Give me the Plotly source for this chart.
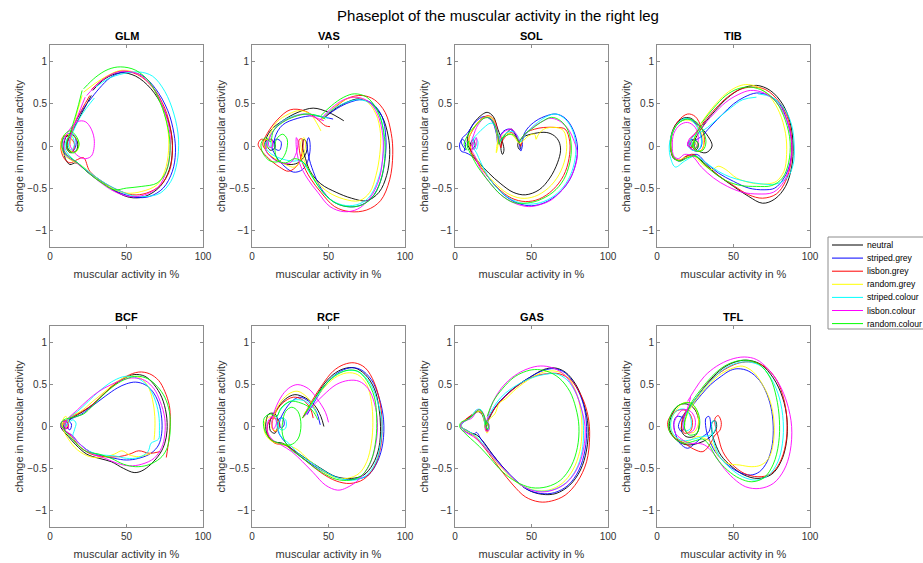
import plotly.graph_objects as go

series = ["neutral", "striped.grey", "lisbon.grey", "random.grey",
          "striped.colour", "lisbon.colour", "random.colour"]
colors = ["#000000", "#0000ff", "#ff0000", "#ffff00", "#00ffff", "#ff00ff", "#00ff00"]
muscles = ["GLM", "VAS", "SOL", "TIB", "BCF", "RCF", "GAS", "TFL"]
x_ticks = [0, 50, 100]
y_ticks = [-1, -0.5, 0, 0.5, 1]

GLM = {
    "neutral": [(28,0.66),(36,0.8),(46,0.87),(56,0.83),(66,0.68),(74,0.45),(79,0.18),(80,-0.05),(78,-0.28),(72,-0.48),(62,-0.6),(52,-0.61),(42,-0.53),(32,-0.4),(24,-0.3),(17,-0.2),(13,-0.22),(10,-0.15),(9,0),(11,0.12),(15,0.13),(18,0.05),(17,-0.06),(13,-0.06),(11,0.03),(14,0.15),(19,0.33),(27,0.6)],
    "striped.grey": [(25,0.52),(32,0.68),(40,0.82),(49,0.88),(60,0.84),(69,0.68),(77,0.42),(81,0.15),(82,-0.08),(80,-0.3),(74,-0.5),(65,-0.6),(56,-0.61),(45,-0.55),(35,-0.45),(26,-0.33),(18,-0.2),(12,-0.14),(8,-0.04),(9,0.1),(14,0.15),(17,0.07),(16,-0.04),(13,-0.08),(11,0),(13,0.12),(17,0.3),(24,0.5)],
    "lisbon.grey": [(27,0.67),(36,0.81),(46,0.89),(57,0.85),(67,0.7),(75,0.45),(79,0.18),(80,-0.05),(78,-0.3),(72,-0.47),(63,-0.56),(54,-0.58),(44,-0.52),(34,-0.42),(26,-0.3),(22,-0.14),(18,-0.16),(13,-0.2),(9,-0.14),(7,0),(9,0.12),(13,0.1),(16,0.02),(14,-0.08),(11,-0.04),(12,0.08),(17,0.3),(26,0.6)],
    "random.grey": [(22,0.64),(30,0.75),(38,0.84),(47,0.9),(57,0.86),(66,0.72),(73,0.48),(77,0.2),(77.5,-0.05),(75,-0.3),(70,-0.46),(60,-0.54),(50,-0.56),(40,-0.5),(30,-0.38),(22,-0.25),(15,-0.18),(9,-0.1),(7,0.03),(10,0.13),(15,0.12),(19,0.03),(17,-0.07),(13,-0.05),(14,0.1),(17,0.35),(21,0.6)],
    "striped.colour": [(30,0.7),(38,0.8),(48,0.86),(58,0.88),(67,0.83),(75,0.65),(81,0.38),(84,0.08),(83,-0.2),(79,-0.42),(72,-0.56),(63,-0.6),(54,-0.59),(44,-0.52),(34,-0.42),(25,-0.3),(18,-0.2),(13,-0.12),(10,-0.03),(11,0.08),(14,0.12),(16,0.03),(14,-0.05),(12,0),(14,0.12),(20,0.35),(29,0.57)],
    "lisbon.colour": [(24,0.6),(32,0.75),(40,0.85),(48,0.89),(58,0.85),(67,0.7),(74,0.46),(78,0.2),(78.5,-0.05),(76,-0.3),(71,-0.48),(62,-0.58),(52,-0.6),(42,-0.54),(32,-0.42),(24,-0.3),(16,-0.18),(10,-0.08),(9,0.05),(13,0.2),(18,0.29),(23,0.29),(27,0.2),(29,0.05),(27,-0.12),(22,-0.15),(16,-0.08),(13,0.02),(14,0.15),(18,0.35),(23,0.58)],
    "random.colour": [(22,0.68),(30,0.82),(38,0.91),(46,0.94),(56,0.9),(65,0.76),(72,0.52),(77,0.22),(78.5,-0.05),(76,-0.3),(70,-0.44),(60,-0.48),(50,-0.5),(42,-0.52),(34,-0.44),(25,-0.32),(18,-0.2),(12,-0.12),(8,-0.02),(9,0.12),(13,0.18),(17,0.12),(19,0.02),(16,-0.08),(12,-0.06),(11,0.05),(13,0.15),(17,0.38),(21,0.66)],
}

VAS = {
    "neutral": [(47,0.33),(55,0.45),(62,0.52),(70,0.56),(78,0.5),(85,0.35),(89,0.12),(90,-0.1),(88,-0.35),(83,-0.55),(75,-0.65),(65,-0.62),(55,-0.55),(45,-0.45),(38,-0.3),(35,-0.15),(33,0),(34,0.08),(36,0.02),(35,-0.1),(30,-0.2),(24,-0.22),(17,-0.18),(11,-0.1),(8,0),(10,0.08),(14,0.06),(15,-0.02),(12,-0.05),(9,0.05),(12,0.18),(20,0.3),(30,0.4),(40,0.45),(50,0.4),(60,0.3)],
    "striped.grey": [(48,0.35),(56,0.45),(64,0.52),(72,0.55),(79,0.5),(85,0.35),(87.5,0.1),(87,-0.15),(84,-0.42),(78,-0.62),(70,-0.71),(62,-0.72),(53,-0.66),(45,-0.5),(40,-0.3),(37,-0.12),(36,0.05),(37,0.1),(38,0.02),(37,-0.15),(33,-0.28),(27,-0.31),(20,-0.22),(15,-0.1),(13,0),(16,0.08),(19,0.05),(18,-0.05),(15,-0.03),(15,0.1),(20,0.25),(30,0.33),(40,0.36),(48,0.34),(53,0.32)],
    "lisbon.grey": [(46,0.32),(55,0.47),(63,0.57),(72,0.6),(80,0.55),(87,0.4),(91,0.15),(92,-0.1),(90,-0.4),(84,-0.65),(75,-0.76),(64,-0.78),(54,-0.72),(45,-0.55),(38,-0.38),(33,-0.2),(31,-0.05),(31,0.08),(33,0.08),(33,-0.05),(30,-0.22),(24,-0.3),(18,-0.25),(11,-0.15),(6,-0.05),(4,0.02),(6,0.08),(10,0.05),(9,-0.04),(7,0.02),(10,0.15),(17,0.32),(25,0.43),(34,0.42),(42,0.33),(48,0.24),(51,0.23)],
    "random.grey": [(45,0.3),(53,0.45),(61,0.55),(68,0.58),(75,0.53),(81,0.38),(84,0.15),(83.5,-0.1),(81,-0.35),(77,-0.55),(70,-0.65),(60,-0.63),(50,-0.55),(42,-0.42),(36,-0.25),(33,-0.1),(32,0.05),(34,0.1),(35,0),(33,-0.12),(28,-0.25),(22,-0.22),(15,-0.15),(9,-0.05),(8,0.06),(12,0.08),(13,0),(10,-0.02),(11,0.1),(16,0.28),(24,0.38),(31,0.42),(38,0.38),(43,0.25),(45,0.18)],
    "striped.colour": [(46,0.34),(54,0.45),(62,0.52),(70,0.55),(78,0.5),(84,0.34),(86,0.1),(85.5,-0.15),(82,-0.42),(76,-0.62),(68,-0.7),(59,-0.7),(50,-0.62),(43,-0.47),(37,-0.3),(32,-0.18),(26,-0.18),(19,-0.15),(13,-0.1),(9,-0.02),(9,0.05),(12,0.06),(12,-0.02),(10,0),(12,0.12),(18,0.27),(26,0.35),(35,0.38),(43,0.36),(50,0.33)],
    "lisbon.colour": [(44,0.3),(52,0.45),(60,0.55),(68,0.58),(76,0.53),(82,0.38),(85.5,0.12),(85.5,-0.12),(83,-0.4),(77,-0.62),(69,-0.75),(60,-0.78),(51,-0.72),(43,-0.55),(36,-0.38),(31,-0.2),(29,-0.02),(29,0.1),(30,0.05),(29,-0.08),(25,-0.2),(19,-0.2),(13,-0.14),(9,-0.05),(10,0.06),(13,0.08),(13,-0.02),(11,0),(12,0.12),(18,0.26),(26,0.34),(34,0.38),(41,0.34),(47,0.3)],
    "random.colour": [(45,0.36),(52,0.48),(60,0.58),(67,0.62),(75,0.58),(82,0.42),(86,0.18),(87,-0.08),(85,-0.35),(80,-0.58),(72,-0.7),(62,-0.72),(53,-0.66),(45,-0.52),(39,-0.35),(34,-0.2),(28,-0.15),(22,-0.2),(17,-0.17),(15,-0.05),(16,0.08),(20,0.14),(23,0.08),(22,-0.08),(18,-0.18),(12,-0.18),(7,-0.08),(6,0.03),(9,0.1),(12,0.05),(14,0.18),(20,0.28),(28,0.35),(36,0.38),(43,0.36),(48,0.32)],
}

SOL = {
    "neutral": [(10,-0.05),(8,0.05),(10,0.2),(15,0.33),(21,0.4),(25,0.35),(28,0.2),(31,0.05),(32,-0.05),(31,-0.1),(30,-0.03),(31,0.08),(34,0.16),(37,0.2),(40,0.12),(42,0.04),(43,-0.02),(42,-0.04),(41,0.02),(44,0.1),(52,0.15),(60,0.16),(65,0.12),(68,0.05),(69,-0.05),(67,-0.2),(62,-0.38),(55,-0.52),(46,-0.58),(38,-0.55),(30,-0.45),(22,-0.32),(15,-0.18),(11,-0.08),(10,0.02),(12,0.08),(13,0),(11,-0.04)],
    "striped.grey": [(7,-0.05),(4,0.05),(5,0.1),(8,0.15),(13,0.28),(19,0.35),(24,0.3),(27,0.15),(28,0.02),(29,0.1),(32,0.18),(36,0.2),(40,0.12),(42,0.02),(43,-0.06),(44,0),(44,0.08),(47,0.2),(53,0.3),(60,0.36),(66,0.38),(72,0.33),(77,0.2),(80,0),(79,-0.2),(75,-0.4),(68,-0.56),(59,-0.67),(50,-0.71),(41,-0.68),(32,-0.58),(23,-0.4),(16,-0.22),(11,-0.12),(7,-0.08),(4,-0.06),(3,0.02),(5,0.08),(7,0.02),(6,-0.06)],
    "lisbon.grey": [(10,0),(9,0.08),(12,0.2),(17,0.32),(22,0.36),(26,0.3),(28,0.15),(29,0.05),(30,-0.02),(31,0.06),(34,0.13),(37,0.16),(40,0.1),(42,0.03),(43,0),(44,0.06),(47,0.16),(52,0.2),(58,0.22),(66,0.22),(72,0.2),(75,0.05),(74.5,-0.15),(71,-0.35),(64,-0.52),(55,-0.63),(46,-0.66),(37,-0.62),(28,-0.5),(20,-0.33),(14,-0.18),(11,-0.1),(10,-0.02),(12,0.05)],
    "random.grey": [(11,-0.05),(9,0.05),(11,0.18),(16,0.3),(21,0.35),(25,0.32),(27,0.18),(28,0.0),(27,-0.08),(28,0.05),(31,0.12),(35,0.15),(39,0.1),(42,0.03),(44,0.05),(48,0.12),(52,0.14),(53,0.08),(54,0.12),(58,0.2),(66,0.22),(71,0.18),(73,0.02),(72,-0.15),(68,-0.34),(61,-0.5),(52,-0.6),(43,-0.62),(34,-0.56),(26,-0.44),(19,-0.3),(14,-0.15),(11,-0.08)],
    "striped.colour": [(13,0),(12,0.08),(15,0.15),(19,0.22),(23,0.27),(26,0.25),(28,0.15),(30,0.06),(31,0.1),(34,0.16),(38,0.17),(41,0.12),(43,0.05),(45,0.1),(48,0.18),(54,0.28),(61,0.36),(66,0.38),(72,0.32),(77,0.18),(79,0),(78,-0.2),(74,-0.4),(67,-0.56),(58,-0.66),(49,-0.69),(40,-0.66),(31,-0.56),(23,-0.4),(17,-0.2),(14,-0.08),(12,-0.02),(11,0.05),(13,0.1),(15,0.05),(14,-0.04),(13,0)],
    "lisbon.colour": [(12,-0.04),(11,0.06),(12,0.12),(15,0.25),(20,0.34),(24,0.32),(27,0.22),(28,0.1),(29,0.04),(30,0.12),(33,0.18),(37,0.2),(40,0.14),(42,0.06),(44,0.1),(47,0.16),(53,0.25),(58,0.3),(62,0.33),(68,0.3),(74,0.2),(78,0.05),(80,-0.1),(77,-0.32),(71,-0.5),(63,-0.64),(55,-0.7),(48,-0.72),(39,-0.68),(30,-0.58),(22,-0.42),(16,-0.25),(13,-0.12),(11,-0.05),(12,0.02),(14,0.1),(14,0.02),(12,-0.04)],
    "random.colour": [(8,-0.05),(6,0.02),(7,0.08),(9,0.15),(14,0.25),(19,0.33),(23,0.33),(26,0.25),(28,0.12),(29,0.02),(30,0.08),(33,0.12),(37,0.14),(40,0.1),(42,0.04),(43,0.08),(46,0.15),(50,0.2),(56,0.28),(63,0.34),(69,0.3),(74,0.18),(76,0),(75,-0.2),(71,-0.4),(64,-0.55),(54,-0.65),(45,-0.68),(38,-0.67),(30,-0.58),(22,-0.42),(15,-0.25),(11,-0.12),(9,-0.05),(8,0.02),(9,0.06),(8,-0.02)],
}

TIB = {
    "neutral": [(30,0.25),(38,0.42),(46,0.57),(55,0.68),(65,0.72),(74,0.66),(82,0.5),(87,0.28),(89,0),(88,-0.25),(84,-0.48),(77,-0.63),(69,-0.68),(60,-0.6),(50,-0.48),(40,-0.35),(32,-0.22),(25,-0.12),(20,-0.12),(15,-0.17),(11,-0.15),(9,-0.05),(9,0.1),(12,0.25),(17,0.33),(22,0.33),(27,0.25),(32,0.15),(36,0),(32,-0.08),(26,-0.05),(22,0.02),(24,0.08),(27,0.03),(26,-0.04),(24,0),(25,0.08),(28,0.18),(32,0.28)],
    "striped.grey": [(30,0.13),(36,0.25),(43,0.38),(50,0.5),(57,0.58),(65,0.63),(73,0.6),(80,0.5),(85,0.3),(88,0.05),(87,-0.2),(83,-0.38),(77,-0.5),(70,-0.52),(60,-0.5),(50,-0.42),(40,-0.32),(32,-0.2),(26,-0.1),(20,-0.13),(14,-0.18),(10,-0.1),(9,0.05),(11,0.2),(16,0.3),(21,0.32),(26,0.25),(29,0.12),(29,0),(26,-0.06),(22,-0.03),(21,0.04),(23,0.08),(25,0.03),(23,-0.02),(24,0.05),(28,0.1),(32,0.16)],
    "lisbon.grey": [(30,0.27),(38,0.44),(46,0.58),(54,0.67),(62,0.7),(71,0.67),(80,0.52),(86,0.3),(88,0.05),(87.5,-0.2),(84,-0.42),(78,-0.57),(69,-0.62),(60,-0.58),(50,-0.47),(40,-0.35),(31,-0.22),(24,-0.1),(19,-0.12),(15,-0.17),(11,-0.14),(9,-0.03),(10,0.15),(14,0.3),(20,0.38),(25,0.35),(29,0.22),(31,0.08),(29,-0.05),(24,-0.05),(20,0.02),(22,0.06),(24,0.02),(22,-0.02),(21,0.05),(25,0.15),(31,0.29)],
    "random.grey": [(28,0.25),(36,0.45),(45,0.62),(52,0.7),(58,0.73),(66,0.7),(74,0.58),(80,0.4),(84,0.15),(84.7,-0.1),(83,-0.3),(78,-0.42),(72,-0.45),(62,-0.44),(52,-0.38),(45,-0.28),(40,-0.24),(36,-0.28),(30,-0.22),(24,-0.12),(18,-0.14),(13,-0.17),(10,-0.1),(9,0.05),(11,0.2),(16,0.3),(22,0.3),(27,0.22),(30,0.1),(30,-0.03),(27,-0.06),(23,0),(24,0.06),(26,0),(24,-0.02),(24,0.06),(27,0.17),(29,0.23)],
    "striped.colour": [(66,0.62),(75,0.58),(83,0.45),(88,0.25),(89.7,0),(89,-0.22),(85,-0.38),(78,-0.45),(68,-0.45),(58,-0.42),(48,-0.37),(40,-0.3),(32,-0.2),(25,-0.12),(18,-0.18),(12,-0.25),(9,-0.15),(8,0),(10,0.15),(14,0.28),(19,0.33),(24,0.28),(28,0.15),(29,0.03),(27,-0.05),(22,-0.04),(20,0.03),(22,0.07),(23,0.02),(21,0),(22,0.08),(27,0.15),(33,0.22),(40,0.33),(48,0.45),(56,0.55),(65,0.58)],
    "lisbon.colour": [(29,0.22),(37,0.38),(45,0.52),(53,0.61),(61,0.66),(70,0.63),(78,0.52),(85,0.3),(88,0.03),(87,-0.22),(83,-0.42),(76,-0.55),(66,-0.57),(56,-0.55),(46,-0.48),(37,-0.38),(29,-0.25),(23,-0.12),(18,-0.1),(14,-0.15),(11,-0.12),(10,0),(11,0.15),(15,0.25),(20,0.28),(25,0.22),(27,0.1),(26,0),(23,-0.04),(20,0.02),(21,0.06),(22,0.02),(20,0),(21,0.08),(25,0.15),(29,0.22)],
    "random.colour": [(29,0.27),(37,0.45),(45,0.6),(53,0.68),(61,0.7),(70,0.65),(78,0.52),(84,0.3),(87,0.05),(86,-0.2),(82,-0.38),(75,-0.47),(65,-0.48),(55,-0.47),(46,-0.42),(38,-0.33),(31,-0.22),(25,-0.12),(20,-0.14),(15,-0.18),(11,-0.14),(9,0),(10,0.15),(14,0.27),(20,0.32),(26,0.28),(30,0.18),(32,0.05),(30,-0.05),(26,-0.06),(23,0),(25,0.06),(27,0.02),(25,-0.03),(24,0.05),(26,0.16),(30,0.26)],
}

BCF = {
    "neutral": [(12,0.08),(18,0.14),(25,0.22),(32,0.33),(40,0.47),(48,0.57),(55,0.62),(62,0.6),(68,0.5),(73,0.35),(76,0.15),(76.5,-0.05),(75,-0.2),(72,-0.32),(66,-0.45),(60,-0.53),(55,-0.55),(48,-0.5),(40,-0.42),(32,-0.38),(24,-0.33),(17,-0.22),(12,-0.12),(9,-0.06),(7,0),(8,0.06),(11,0.06),(12,0),(10,-0.03),(9,0.03),(11,0.08)],
    "striped.grey": [(13,0.08),(20,0.14),(28,0.25),(36,0.36),(44,0.46),(50,0.51),(56,0.53),(62,0.5),(67,0.42),(71,0.28),(73,0.1),(73,-0.08),(71,-0.22),(66,-0.32),(58,-0.38),(50,-0.4),(42,-0.38),(34,-0.35),(26,-0.3),(19,-0.2),(14,-0.1),(10,-0.06),(9,0.02),(11,0.07),(14,0.03),(13,-0.04),(11,0),(13,0.08)],
    "lisbon.grey": [(72,-0.3),(65,-0.32),(58,-0.29),(52,-0.33),(45,-0.36),(36,-0.36),(27,-0.33),(20,-0.25),(14,-0.12),(10,-0.05),(8,0.02),(10,0.07),(12,0.03),(11,-0.03),(10,0.03),(13,0.1),(20,0.17),(27,0.25),(34,0.37),(42,0.5),(50,0.6),(58,0.65),(65,0.63),(71,0.55),(75,0.42),(78,0.25),(78.6,0.08),(78,-0.1),(77,-0.25),(76,-0.37)],
    "random.grey": [(66,-0.32),(58,-0.36),(52,-0.34),(47,-0.29),(42,-0.33),(34,-0.37),(26,-0.36),(18,-0.28),(12,-0.15),(9,-0.05),(8,0.05),(10,0.12),(12,0.08),(11,0),(9,0.02),(13,0.12),(20,0.18),(28,0.3),(36,0.42),(44,0.54),(52,0.6),(59,0.58),(64,0.48),(67,0.32),(68.5,0.12),(68.5,-0.05),(68,-0.16)],
    "striped.colour": [(12,0.1),(18,0.18),(25,0.3),(32,0.42),(40,0.53),(47,0.59),(52,0.6),(58,0.57),(64,0.48),(68,0.35),(71,0.15),(71.5,-0.05),(71,-0.15),(68,-0.18),(66,-0.2),(64,-0.3),(58,-0.37),(50,-0.38),(42,-0.35),(34,-0.34),(26,-0.3),(19,-0.2),(15,-0.12),(16,-0.04),(17,0.04),(15,0.08),(12,0.04),(10,0),(11,0.06),(13,0.1)],
    "lisbon.colour": [(12,0.1),(18,0.2),(25,0.32),(32,0.42),(40,0.5),(48,0.56),(55,0.58),(62,0.55),(68,0.45),(72,0.3),(75,0.1),(75,-0.1),(73,-0.25),(68,-0.38),(60,-0.45),(52,-0.47),(44,-0.44),(36,-0.38),(28,-0.33),(20,-0.22),(14,-0.1),(10,-0.05),(7,0),(8,0.06),(11,0.05),(12,-0.02),(10,-0.02),(10,0.05),(12,0.1)],
    "random.colour": [(10,-0.04),(7,0.02),(9,0.08),(13,0.1),(17,0.12),(22,0.15),(28,0.25),(35,0.38),(43,0.5),(50,0.57),(57,0.6),(64,0.57),(70,0.48),(75,0.35),(78,0.18),(78.6,0),(78,-0.15),(76,-0.28),(72,-0.38),(64,-0.46),(56,-0.48),(48,-0.45),(40,-0.38),(32,-0.33),(24,-0.3),(17,-0.2),(12,-0.1),(9,-0.04)],
}

RCF = {
    "neutral": [(34,0.12),(40,0.3),(46,0.48),(53,0.62),(60,0.69),(67,0.7),(74,0.62),(80,0.45),(83,0.22),(84,0),(83,-0.25),(79,-0.45),(73,-0.58),(65,-0.62),(55,-0.6),(45,-0.5),(35,-0.38),(27,-0.28),(20,-0.2),(14,-0.18),(10,-0.1),(9,0.03),(11,0.15),(15,0.15),(17,0.05),(15,-0.08),(12,-0.05),(12,0.08),(16,0.2),(22,0.33),(28,0.38),(35,0.34),(41,0.25),(45,0.12),(47,0)],
    "striped.grey": [(36,0.14),(42,0.33),(49,0.52),(56,0.64),(64,0.7),(71,0.68),(78,0.56),(83,0.35),(86,0.08),(85.5,-0.2),(82,-0.42),(76,-0.58),(68,-0.63),(58,-0.62),(48,-0.55),(39,-0.45),(31,-0.35),(25,-0.25),(20,-0.15),(17,-0.05),(17,0.08),(20,0.1),(21,0.02),(19,-0.02),(18,0.05),(21,0.18),(26,0.3),(31,0.35),(37,0.3),(42,0.18),(44.6,0.02)],
    "lisbon.grey": [(33,0.1),(39,0.3),(46,0.5),(53,0.66),(60,0.74),(67,0.76),(74,0.7),(80,0.52),(84,0.25),(85,0),(84,-0.25),(80,-0.48),(73,-0.63),(64,-0.68),(55,-0.65),(45,-0.55),(36,-0.42),(28,-0.3),(21,-0.22),(15,-0.2),(11,-0.12),(10,0),(13,0.1),(17,0.08),(18,0),(15,-0.06),(13,0),(15,0.15),(20,0.28),(27,0.35),(33,0.32),(38,0.22),(40,0.1)],
    "random.grey": [(34,0.15),(40,0.3),(47,0.46),(54,0.58),(62,0.64),(69,0.62),(75,0.5),(78,0.3),(79,0.05),(78,-0.2),(75,-0.42),(70,-0.56),(62,-0.62),(53,-0.6),(44,-0.5),(36,-0.38),(30,-0.28),(23,-0.22),(16,-0.2),(11,-0.15),(8,-0.05),(9,0.08),(13,0.12),(17,0.05),(16,-0.05),(13,-0.02),(14,0.12),(19,0.3),(25,0.4),(30,0.42),(36,0.35),(40,0.25),(42,0.15)],
    "striped.colour": [(35,0.15),(41,0.32),(48,0.5),(55,0.62),(63,0.67),(70,0.65),(77,0.52),(82,0.3),(85,0.05),(84,-0.2),(81,-0.42),(75,-0.58),(67,-0.64),(57,-0.62),(47,-0.53),(38,-0.42),(30,-0.32),(24,-0.2),(19,-0.12),(17,0),(19,0.1),(22,0.08),(22,-0.02),(19,-0.04),(16,0.05),(18,0.18),(23,0.28),(29,0.32),(35,0.3),(40,0.22),(43,0.15)],
    "lisbon.colour": [(34,0.12),(40,0.25),(47,0.38),(55,0.5),(63,0.55),(70,0.54),(76,0.45),(80,0.28),(82,0.05),(81,-0.2),(77,-0.45),(70,-0.63),(62,-0.73),(56,-0.76),(48,-0.7),(40,-0.55),(33,-0.42),(26,-0.3),(19,-0.22),(13,-0.15),(10,-0.05),(11,0.08),(14,0.12),(16,0.05),(14,-0.03),(13,0.05),(15,0.2),(20,0.38),(25,0.47),(30,0.5),(37,0.45),(43,0.32),(48,0.17),(50,0.05)],
    "random.colour": [(33,0.1),(39,0.28),(46,0.46),(54,0.6),(62,0.67),(69,0.66),(75,0.55),(80,0.35),(81.5,0.1),(81,-0.15),(78,-0.4),(72,-0.58),(64,-0.64),(55,-0.63),(46,-0.55),(38,-0.45),(31,-0.35),(24,-0.25),(20,-0.1),(20,0.05),(22,0.18),(26,0.23),(30,0.18),(32,0.02),(30,-0.15),(25,-0.22),(18,-0.2),(12,-0.15),(8,-0.03),(8,0.1),(12,0.15),(16,0.12),(19,0.22),(25,0.3),(32,0.28),(38,0.22),(42,0.12),(43,0.08)],
}

GAS = {
    "neutral": [(22,0.08),(26,0.22),(32,0.35),(40,0.48),(50,0.6),(58,0.68),(65,0.7),(72,0.65),(79,0.5),(84,0.28),(87,0),(86,-0.28),(82,-0.52),(75,-0.7),(66,-0.8),(57,-0.81),(48,-0.76),(40,-0.65),(32,-0.5),(24,-0.32),(18,-0.17),(14,-0.1),(11,-0.08),(8,-0.05),(5,-0.02),(4,0.03),(7,0.08),(10,0.12),(14,0.18),(17,0.16),(19,0.08),(20,-0.03),(21,-0.05),(22,0.02),(21,0.05),(20,0),(21,0.04),(22,0.08)],
    "striped.grey": [(22,0.1),(27,0.25),(33,0.37),(41,0.49),(50,0.6),(58,0.67),(65,0.69),(72,0.64),(79,0.48),(84,0.26),(86,0),(85,-0.28),(81,-0.52),(74,-0.7),(65,-0.79),(56,-0.8),(47,-0.75),(39,-0.63),(31,-0.48),(23,-0.3),(17,-0.15),(14,-0.07),(12,-0.1),(9,-0.08),(5,-0.03),(4,0.02),(7,0.07),(11,0.12),(15,0.18),(18,0.15),(20,0.05),(21,-0.04),(22,-0.02),(21,0.03),(20,0),(21,0.06),(22,0.1)],
    "lisbon.grey": [(22,0.1),(27,0.24),(33,0.36),(42,0.5),(52,0.6),(60,0.63),(68,0.63),(76,0.55),(83,0.35),(87,0.12),(88,-0.12),(86,-0.42),(80,-0.66),(72,-0.82),(63,-0.89),(55,-0.9),(46,-0.84),(38,-0.7),(30,-0.52),(22,-0.32),(16,-0.18),(12,-0.1),(8,-0.05),(4,0),(5,0.05),(8,0.1),(12,0.15),(16,0.18),(19,0.12),(20,0.02),(21,-0.06),(22,-0.03),(21,0.04),(20,0),(21,0.06),(22,0.1)],
    "random.grey": [(22,0.08),(26,0.15),(29,0.28),(33,0.33),(40,0.45),(50,0.58),(58,0.65),(66,0.66),(73,0.6),(79,0.42),(82,0.2),(83,-0.05),(81.5,-0.3),(77,-0.52),(70,-0.68),(61,-0.76),(52,-0.76),(43,-0.7),(35,-0.58),(27,-0.42),(20,-0.25),(14,-0.13),(10,-0.08),(6,-0.04),(4,0.02),(6,0.07),(10,0.1),(13,0.17),(17,0.17),(19,0.08),(20,-0.04),(21,-0.08),(22,-0.02),(21,0.04),(20,0.01),(21,0.05),(22,0.08)],
    "striped.colour": [(22,0.12),(27,0.28),(33,0.4),(41,0.5),(50,0.58),(58,0.62),(66,0.63),(73,0.56),(79,0.4),(83,0.18),(84,-0.05),(83,-0.3),(79,-0.52),(72,-0.68),(63,-0.76),(54,-0.77),(45,-0.72),(37,-0.6),(29,-0.45),(21,-0.28),(15,-0.14),(11,-0.08),(7,-0.04),(4,0),(6,0.06),(10,0.1),(14,0.2),(17,0.2),(19,0.1),(20,0),(22,-0.04),(22,0.03),(21,0.06),(20,0.02),(21,0.07),(22,0.12)],
    "lisbon.colour": [(22,0.15),(25,0.3),(30,0.45),(37,0.58),(45,0.67),(54,0.72),(62,0.71),(70,0.64),(77,0.48),(82,0.25),(85,0),(84,-0.27),(80,-0.5),(73,-0.67),(64,-0.76),(55,-0.78),(46,-0.73),(38,-0.62),(30,-0.47),(23,-0.32),(17,-0.2),(12,-0.12),(8,-0.08),(4,-0.03),(4,0.03),(7,0.07),(11,0.1),(15,0.2),(18,0.17),(20,0.06),(20,-0.05),(22,-0.05),(22,0.03),(21,0.06),(20,0.01),(21,0.08),(22,0.15)],
    "random.colour": [(21,0.12),(25,0.3),(31,0.45),(38,0.58),(45,0.65),(52,0.68),(60,0.66),(68,0.58),(75,0.42),(79,0.22),(81,0),(80,-0.25),(76,-0.47),(69,-0.64),(60,-0.72),(50,-0.73),(40,-0.66),(31,-0.54),(23,-0.38),(16,-0.24),(10,-0.14),(6,-0.07),(3,0),(4,0.05),(8,0.08),(12,0.14),(16,0.2),(19,0.13),(20,0.03),(21,-0.03),(22,0),(21,0.05),(20,0.02),(21,0.08)],
}

TFL = {
    "neutral": [(24,0.3),(30,0.45),(37,0.6),(45,0.72),(53,0.78),(60,0.79),(68,0.74),(76,0.58),(82,0.35),(85,0.08),(84.5,-0.2),(81,-0.42),(75,-0.57),(66,-0.62),(57,-0.58),(49,-0.48),(42,-0.35),(38,-0.2),(36,-0.07),(36,0.05),(38,0.07),(39,0),(37,-0.08),(33,-0.15),(27,-0.2),(20,-0.22),(14,-0.18),(10,-0.1),(8,0),(10,0.15),(14,0.25),(19,0.27),(24,0.22),(27,0.1),(27,-0.05),(24,-0.12),(19,-0.12),(16,-0.05),(17,0.08),(20,0.2),(24,0.3)],
    "striped.grey": [(23,0.25),(29,0.38),(35,0.5),(42,0.6),(48,0.67),(53,0.69),(60,0.66),(67,0.55),(72,0.38),(75,0.18),(76,-0.05),(75,-0.25),(72,-0.42),(67,-0.54),(61,-0.58),(53,-0.54),(45,-0.44),(38,-0.3),(34,-0.15),(32,-0.02),(32,0.1),(34,0.12),(35,0.03),(34,-0.06),(30,-0.12),(25,-0.2),(20,-0.26),(15,-0.2),(12,-0.08),(11,0.05),(13,0.12),(17,0.1),(18,0),(16,-0.06),(14,0),(16,0.1),(19,0.18),(23,0.25)],
    "lisbon.grey": [(25,0.32),(31,0.47),(38,0.6),(46,0.7),(54,0.76),(62,0.77),(70,0.72),(78,0.56),(83,0.32),(85,0.05),(84,-0.22),(80,-0.44),(74,-0.57),(66,-0.6),(57,-0.56),(49,-0.45),(43,-0.3),(40,-0.12),(38,0.02),(38,0.1),(40,0.13),(42,0.05),(41,-0.05),(38,-0.1),(35,-0.2),(30,-0.3),(24,-0.27),(18,-0.2),(12,-0.14),(8,-0.05),(7,0.05),(10,0.15),(15,0.2),(20,0.18),(23,0.08),(22,-0.05),(18,-0.08),(16,0.02),(18,0.15),(22,0.25),(25,0.32)],
    "random.grey": [(24,0.28),(29,0.4),(35,0.52),(42,0.63),(50,0.7),(56,0.72),(63,0.65),(69,0.5),(74,0.3),(76.5,0.05),(76,-0.2),(73,-0.38),(68,-0.46),(62,-0.48),(54,-0.46),(46,-0.44),(40,-0.35),(36,-0.2),(32,-0.15),(26,-0.12),(20,-0.18),(14,-0.15),(10,-0.08),(9,0.05),(12,0.18),(17,0.28),(22,0.28),(26,0.18),(27,0.03),(24,-0.07),(19,-0.06),(18,0.03),(20,0.15),(24,0.28)],
    "striped.colour": [(24,0.3),(30,0.44),(37,0.58),(45,0.7),(53,0.76),(60,0.77),(68,0.72),(75,0.56),(80,0.34),(82.5,0.06),(82,-0.2),(79,-0.42),(73,-0.58),(65,-0.64),(56,-0.6),(48,-0.5),(41,-0.36),(37,-0.18),(36,-0.05),(36,0.06),(38,0.06),(38,-0.04),(35,-0.1),(30,-0.12),(24,-0.15),(17,-0.17),(12,-0.12),(9,-0.02),(10,0.12),(14,0.2),(19,0.2),(22,0.1),(22,-0.02),(19,-0.05),(17,0.03),(19,0.15),(24,0.3)],
    "lisbon.colour": [(20,0.3),(25,0.45),(31,0.6),(39,0.72),(48,0.8),(57,0.83),(65,0.8),(73,0.68),(80,0.5),(85,0.28),(88,0),(87,-0.3),(83,-0.52),(76,-0.68),(67,-0.74),(58,-0.72),(50,-0.62),(43,-0.48),(37,-0.32),(31,-0.22),(26,-0.2),(21,-0.2),(16,-0.15),(12,-0.08),(11,0.02),(13,0.12),(17,0.2),(22,0.18),(25,0.08),(24,-0.04),(20,-0.08),(17,0),(18,0.12),(20,0.22),(22,0.35)],
    "random.colour": [(23,0.3),(29,0.45),(36,0.6),(44,0.72),(52,0.78),(59,0.79),(67,0.74),(74,0.58),(78,0.35),(80,0.08),(79.5,-0.2),(76,-0.45),(70,-0.61),(62,-0.66),(54,-0.62),(46,-0.52),(39,-0.38),(34,-0.22),(30,-0.15),(25,-0.17),(18,-0.2),(12,-0.15),(8,-0.05),(8,0.08),(11,0.2),(16,0.27),(22,0.28),(26,0.2),(28,0.05),(26,-0.08),(21,-0.1),(18,-0.02),(19,0.12),(21,0.22),(23,0.3)],
}

data_by_muscle = {"GLM": GLM, "VAS": VAS, "SOL": SOL, "TIB": TIB,
                  "BCF": BCF, "RCF": RCF, "GAS": GAS, "TFL": TFL}

W, H = 923, 563
col_px = [(50, 203), (252, 405), (455, 608), (657, 810)]
row_px = [(45, 247), (326, 527)]

FONT = "Liberation Sans, Arial, sans-serif"
AXC = "#8c8c8c"
TXC = "#333333"
fig = go.Figure()
layout_axes = {}
annotations = []
shapes = []
for i, m in enumerate(muscles):
    r, c = divmod(i, 4)
    n = i + 1
    xa = "x" if n == 1 else f"x{n}"
    ya = "y" if n == 1 else f"y{n}"
    for s, col in zip(series, colors):
        pts = data_by_muscle[m][s]
        fig.add_trace(go.Scatter(
            x=[p[0] for p in pts], y=[p[1] for p in pts], mode="lines",
            line=dict(color=col, width=0.9, shape="spline", smoothing=1.0),
            name=s, showlegend=False,
            xaxis=xa, yaxis=ya, hoverinfo="skip"))
    x0, x1 = col_px[c]
    y0, y1 = row_px[r]
    dx = [x0 / W, x1 / W]
    dy = [1 - y1 / H, 1 - y0 / H]
    common = dict(showgrid=False, zeroline=False, showline=True, mirror="ticks",
                  linecolor=AXC, linewidth=1, ticks="inside", ticklen=3,
                  tickcolor=AXC, tickfont=dict(size=10, color=TXC, family=FONT))
    layout_axes["xaxis" if n == 1 else f"xaxis{n}"] = dict(
        domain=dx, range=[0, 100], tickvals=x_ticks, anchor=ya,
        title=dict(text="muscular activity in %", font=dict(size=11, color=TXC, family=FONT), standoff=9),
        **common)
    layout_axes["yaxis" if n == 1 else f"yaxis{n}"] = dict(
        domain=dy, range=[-1.2, 1.2], tickvals=y_ticks, anchor=xa,
        title=dict(text="change in muscular activity", font=dict(size=11, color=TXC, family=FONT), standoff=1),
        **common)
    annotations.append(dict(text=f"<b>{m}</b>", x=(dx[0] + dx[1]) / 2, y=dy[1],
                            xref="paper", yref="paper", xanchor="center", yanchor="bottom",
                            yshift=1, showarrow=False,
                            font=dict(size=11, color="#000000", family=FONT)))

# hand-drawn legend box (MATLAB-like, clipped at the right edge)
lg_left, lg_top, lg_bottom = 828, 237, 329
shapes.append(dict(type="rect", xref="paper", yref="paper",
                   x0=lg_left / W, x1=940 / W, y0=1 - lg_bottom / H, y1=1 - lg_top / H,
                   line=dict(color=AXC, width=1), fillcolor="white", layer="above"))
for k, (s, col) in enumerate(zip(series, colors)):
    yy = 245 + k * 13.1
    shapes.append(dict(type="line", xref="paper", yref="paper",
                       x0=832 / W, x1=863 / W, y0=1 - yy / H, y1=1 - yy / H,
                       line=dict(color=col, width=1), layer="above"))
    annotations.append(dict(text=s, x=865 / W, y=1 - yy / H, xref="paper", yref="paper",
                            xanchor="left", yanchor="middle", showarrow=False,
                            font=dict(size=8.6, color="#000000", family=FONT)))

fig.update_layout(
    width=W, height=H, autosize=False,
    margin=dict(l=0, r=0, t=0, b=0, autoexpand=False),
    paper_bgcolor="white", plot_bgcolor="white",
    font=dict(family=FONT),
    title=dict(text="Phaseplot of the muscular activity in the right leg",
               x=498 / W, xanchor="center", y=1 - 16 / H, yanchor="middle",
               font=dict(size=15, color="#000000", family=FONT)),
    annotations=annotations,
    shapes=shapes,
    showlegend=False,
    **layout_axes,
)
fig.write_html("out.html")
